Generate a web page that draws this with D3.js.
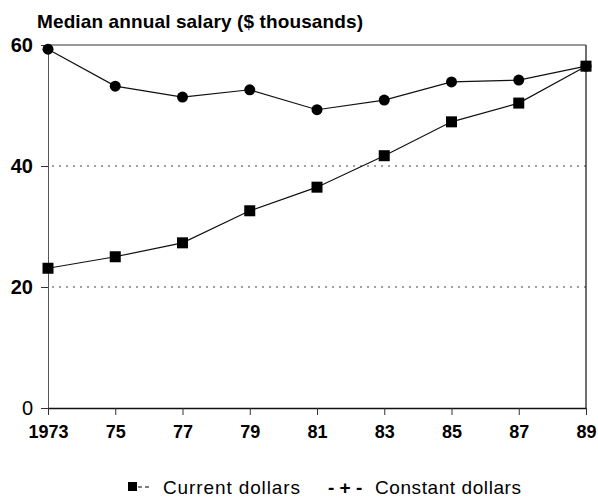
<!DOCTYPE html>
<html>
<head>
<meta charset="utf-8">
<script src="https://cdn.jsdelivr.net/npm/d3@7"></script>
<style>
  body { margin: 0; background: #fff; }
  svg { font-family: "Liberation Sans", Arial, sans-serif; }
</style>
</head>
<body>
<svg width="598" height="500"></svg>
<script>
var years = [1973, 1975, 1977, 1979, 1981, 1983, 1985, 1987, 1989];
var yearLabels = ["1973", "75", "77", "79", "81", "83", "85", "87", "89"];
var currentDollars = [23.1, 25.0, 27.3, 32.6, 36.5, 41.7, 47.3, 50.4, 56.5];
var constantDollars = [59.3, 53.2, 51.4, 52.6, 49.3, 50.9, 53.9, 54.2, 56.5];
var yTicks = [0, 20, 40, 60];

var svg = d3.select("svg");
var mLeft = 48, mRight = 586, mTop = 45, mBottom = 408;

var x = d3.scaleLinear().domain([1973, 1989]).range([mLeft, mRight]);
var y = d3.scaleLinear().domain([0, 60]).range([mBottom, mTop]);

// title
svg.append("text")
    .attr("x", 37).attr("y", 28)
    .attr("font-size", 19).attr("font-weight", "bold")
    .attr("textLength", 326)
    .text("Median annual salary ($ thousands)");

// dotted gridlines
svg.append("g").selectAll("line")
  .data([20, 40])
  .enter().append("line")
    .attr("x1", mLeft + 4).attr("x2", mRight)
    .attr("y1", d => y(d)).attr("y2", d => y(d))
    .attr("stroke", "#444").attr("stroke-width", 1)
    .attr("stroke-dasharray", "2,5");

// frame: top and right lines
svg.append("line")
    .attr("x1", mLeft).attr("x2", mRight).attr("y1", mTop).attr("y2", mTop)
    .attr("stroke", "#333").attr("stroke-width", 1);
svg.append("line")
    .attr("x1", mRight).attr("x2", mRight).attr("y1", mTop).attr("y2", mBottom)
    .attr("stroke", "#111").attr("stroke-width", 1.2);

// y axis
var yAxis = svg.append("g")
    .attr("transform", "translate(" + mLeft + ",0)")
    .call(d3.axisLeft(y).tickValues(yTicks).tickSize(7).tickPadding(8).tickSizeOuter(0));
yAxis.select(".domain").attr("stroke", "#555");
yAxis.selectAll(".tick line").attr("stroke", "#333");
yAxis.selectAll(".tick text")
    .attr("fill", "#000")
    .attr("font-family", "Liberation Sans, Arial, sans-serif")
    .attr("font-size", 20)
    .attr("font-weight", d => d === 0 ? "normal" : "bold");

// x axis
var xAxis = svg.append("g")
    .attr("transform", "translate(0," + mBottom + ")")
    .call(d3.axisBottom(x).tickValues(years)
      .tickFormat((d, i) => yearLabels[i]).tickSize(7).tickPadding(10).tickSizeOuter(0));
xAxis.select(".domain").attr("stroke", "#111").attr("stroke-width", 1.5);
xAxis.selectAll(".tick line").attr("stroke", "#333");
xAxis.selectAll(".tick text")
    .attr("fill", "#000")
    .attr("font-family", "Liberation Sans, Arial, sans-serif")
    .attr("font-size", 18)
    .attr("font-weight", "bold");

// lines
var lineGen = d3.line()
    .x((d, i) => x(years[i]))
    .y(d => y(d));

svg.append("path")
    .datum(constantDollars)
    .attr("d", lineGen)
    .attr("fill", "none").attr("stroke", "#111").attr("stroke-width", 1.2);
svg.append("path")
    .datum(currentDollars)
    .attr("d", lineGen)
    .attr("fill", "none").attr("stroke", "#111").attr("stroke-width", 1.2);

// markers
svg.append("g").selectAll("circle")
  .data(constantDollars)
  .enter().append("circle")
    .attr("cx", (d, i) => x(years[i]))
    .attr("cy", d => y(d))
    .attr("r", 5.5)
    .attr("fill", "#000");

var sq = 11;
svg.append("g").selectAll("rect")
  .data(currentDollars)
  .enter().append("rect")
    .attr("x", (d, i) => x(years[i]) - sq / 2)
    .attr("y", d => y(d) - sq / 2)
    .attr("width", sq).attr("height", sq)
    .attr("fill", "#000");

// legend
var lg = svg.append("g").attr("font-size", 19);
lg.append("rect").attr("x", 128).attr("y", 482).attr("width", 9).attr("height", 9).attr("fill", "#000");
lg.append("line").attr("x1", 138).attr("x2", 152).attr("y1", 487).attr("y2", 487)
    .attr("stroke", "#000").attr("stroke-width", 1).attr("stroke-dasharray", "4,3");
lg.append("text").attr("x", 163).attr("y", 494).attr("textLength", 137).text("Current dollars");
lg.append("text").attr("x", 328).attr("y", 494).attr("font-weight", "bold").text("- + -");
lg.append("text").attr("x", 375).attr("y", 494).attr("textLength", 146).text("Constant dollars");
</script>
</body>
</html>
